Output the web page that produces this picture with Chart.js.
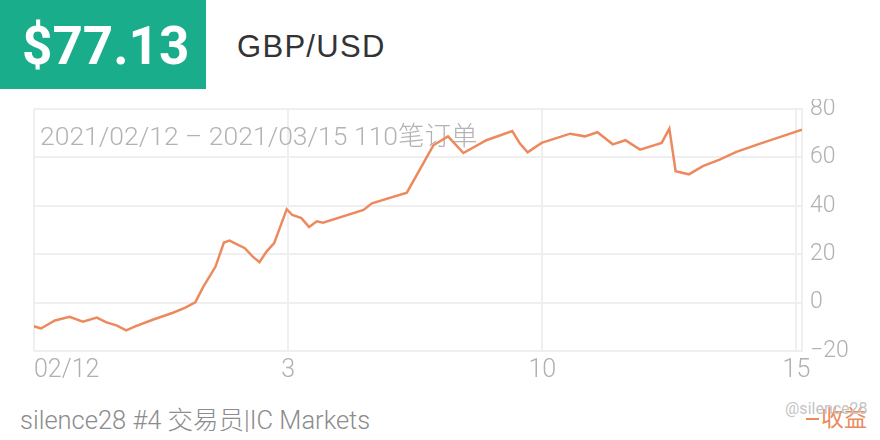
<!DOCTYPE html>
<html>
<head>
<meta charset="utf-8">
<script src="https://cdn.jsdelivr.net/npm/chart.js@4"></script>
<style>
    html, body { margin: 0; padding: 0; background: #fff; }
    #wrap { position: relative; width: 880px; height: 440px; overflow: hidden; font-family: Roboto, "Noto Sans CJK SC", sans-serif; }
    .abs { position: absolute; white-space: nowrap; }
    #price-box { left: 0; top: 0; width: 206px; height: 89px; background: #19ad8b; }
    #price { left: 22px; top: 20px; font-size: 53px; line-height: 53px; font-weight: 700; color: #fff; letter-spacing: 0; }
    #pair { left: 237px; top: 31px; font-family: "Liberation Sans", Arial, sans-serif; font-size: 31px; line-height: 31px; color: #333; letter-spacing: 1.3px; }
    #chart-box { left: 0; top: 99px; width: 880px; height: 291px; }
    #footer { left: 20px; top: 408px; font-size: 25.5px; line-height: 25px; font-weight: 300; color: #8c8c8c; }
    #mark { left: 785px; top: 401px; font-size: 16px; line-height: 16px; color: #c4c4c4; }
    #legend-line { left: 806px; top: 418px; width: 13px; height: 2px; background: #ec8a5e; }
    #legend { left: 821px; top: 407px; font-size: 23px; line-height: 23px; color: #ec8a5e; }
</style>
</head>
<body>
<div id="wrap">
    <div class="abs" id="price-box"></div>
    <div class="abs" id="price">$77.13</div>
    <div class="abs" id="pair">GBP/USD</div>
    <div class="abs" id="chart-box"><canvas id="profitChart" width="880" height="291"></canvas></div>
    <div class="abs" id="footer">silence28 #4 交易员|IC Markets</div>
    <div class="abs" id="legend-line"></div>
    <div class="abs" id="legend">收益</div>
    <div class="abs" id="mark">@silence28</div>
</div>
<script>
// 标题
const rangeTitle = '2021/02/12 – 2021/03/15 110笔订单';

// 订单序号 (x) 与 收益 (y)
const orderIdx = [0, 1.0, 3.0, 5.1, 7.0, 9.0, 10.3, 11.9, 13.2, 14.5, 17.1, 19.9, 21.6, 23.1,
    24.2, 26.0, 27.2, 28.0, 30.2, 31.3, 32.3, 33.3, 34.4, 36.2, 37.0, 38.3, 39.4, 40.5, 41.4,
    47.2, 48.4, 53.4, 57.2, 59.3, 61.5, 64.8, 68.5, 69.6, 70.7, 72.7, 76.8, 78.9, 80.7, 82.9,
    84.7, 86.8, 89.9, 91.0, 91.9, 93.8, 95.8, 98.2, 100.6, 104.0, 106.8, 110];
const profit = [-9.8, -10.7, -7.4, -5.9, -7.9, -6.2, -8.1, -9.5, -11.5, -9.8, -7.0, -4.2, -2.2, 0.1,
    6.3, 14.9, 24.8, 25.6, 22.5, 19.1, 16.7, 21.1, 24.6, 38.6, 36.2, 34.9, 31.2, 33.6, 33.0,
    38.3, 41.0, 45.4, 65.0, 68.7, 61.8, 67.1, 70.9, 65.7, 62.1, 66.0, 69.8, 68.7, 70.4, 65.4,
    67.1, 63.2, 66.0, 71.9, 54.3, 53.0, 56.4, 59.1, 62.3, 65.7, 68.4, 71.5];

// x 轴刻度
const tickPos = [0, 36.4, 72.8, 109.2, 110];
const tickLabels = ['02/12', '3', '10', '15', ''];

const yMin = -20;
const yMax = 80;
const yStep = 20;

const gridColor = '#efefef';
const labelColor = '#b0b0b0';
const lineColor = '#ec8a5e';

// 图内标题
const titlePlugin = {
    id: 'rangeTitle',
    beforeDatasetsDraw(chart) {
        const ctx = chart.ctx;
        ctx.save();
        ctx.font = '300 26.5px Roboto, "Noto Sans CJK SC", sans-serif';
        ctx.fillStyle = '#b3b3b3';
        ctx.textAlign = 'left';
        ctx.textBaseline = 'middle';
        ctx.fillText(rangeTitle, 40, 39);
        ctx.restore();
    }
};

const points = orderIdx.map((x, i) => ({ x: x, y: profit[i] }));

new Chart(document.getElementById('profitChart').getContext('2d'), {
    type: 'line',
    data: {
        datasets: [{
            label: '收益',
            data: points,
            borderColor: lineColor,
            borderWidth: 2.5,
            pointRadius: 0,
            tension: 0,
            fill: false
        }]
    },
    plugins: [titlePlugin],
    options: {
        responsive: false,
        animation: false,
        layout: { padding: { left: 34, top: 10, right: 0, bottom: 0 } },
        plugins: {
            legend: { display: false },
            tooltip: { enabled: false }
        },
        scales: {
            x: {
                type: 'linear',
                min: 0,
                max: 110,
                afterBuildTicks: (scale) => {
                    scale.ticks = tickPos.map(v => ({ value: v }));
                },
                afterFit: (scale) => {
                    scale.height = 39;
                    scale.paddingLeft = 0;
                    scale.paddingRight = 0;
                },
                grid: { color: gridColor, lineWidth: 2, drawTicks: false },
                border: { display: false },
                ticks: {
                    autoSkip: false,
                    maxRotation: 0,
                    align: 'inner',
                    padding: 5,
                    color: labelColor,
                    font: { family: 'Roboto', weight: 300, size: 25 },
                    callback: (value, index) => tickLabels[index]
                }
            },
            y: {
                position: 'right',
                min: yMin,
                max: yMax,
                afterFit: (scale) => {
                    scale.width = 78;
                    scale.paddingTop = 0;
                    scale.paddingBottom = 0;
                },
                grid: { color: gridColor, lineWidth: 2, drawTicks: false },
                border: { color: gridColor, width: 2 },
                ticks: {
                    stepSize: yStep,
                    padding: 8,
                    color: labelColor,
                    font: { family: 'Roboto', weight: 300, size: 23 },
                    callback: (value) => String(value).replace('-', '−')
                }
            }
        }
    }
});
</script>
</body>
</html>
